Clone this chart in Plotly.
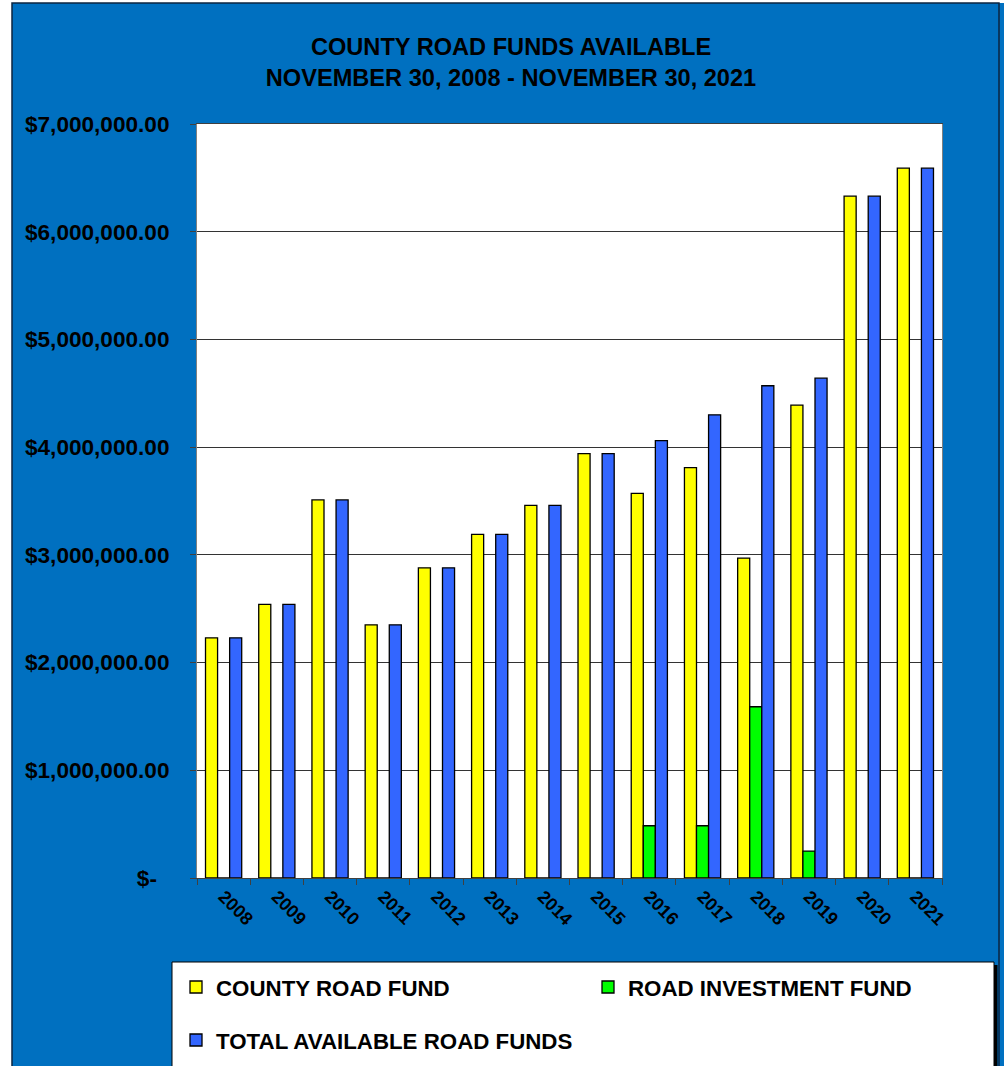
import plotly.graph_objects as go

years = ["2008", "2009", "2010", "2011", "2012", "2013", "2014",
         "2015", "2016", "2017", "2018", "2019", "2020", "2021"]
county_road_fund = [2230000, 2540000, 3510000, 2350000, 2880000, 3190000, 3460000,
                    3940000, 3570000, 3810000, 2970000, 4390000, 6330000, 6590000]
road_investment_fund = [0, 0, 0, 0, 0, 0, 0,
                        0, 485000, 485000, 1590000, 250000, 0, 0]
total_available = [2230000, 2540000, 3510000, 2350000, 2880000, 3190000, 3460000,
                   3940000, 4060000, 4300000, 4570000, 4640000, 6330000, 6590000]
y_tick_vals = [0, 1000000, 2000000, 3000000, 4000000, 5000000, 6000000, 7000000]
y_tick_text = ["$-\u00a0\u00a0", "$1,000,000.00", "$2,000,000.00", "$3,000,000.00",
               "$4,000,000.00", "$5,000,000.00", "$6,000,000.00", "$7,000,000.00"]

W, H = 1004, 1066
ML, MR, MT, MB = 197, 62, 124, 188
PW, PH = W - ML - MR, H - MT - MB

def px(x):
    return (x - ML) / PW

def py(y):
    return (H - MB - y) / PH

FONT = "Arial, Liberation Sans, sans-serif"
BG = "#0070C0"

fig = go.Figure()
fig.add_trace(go.Bar(x=years, y=county_road_fund, name="COUNTY ROAD FUND",
                     marker=dict(color="#FFFF00", line=dict(color="#000000", width=1.3)),
                     legend="legend", showlegend=True))
fig.add_trace(go.Bar(x=years, y=road_investment_fund, name="ROAD INVESTMENT FUND",
                     marker=dict(color="#00FF00", line=dict(color="#000000", width=1.3)),
                     legend="legend2", showlegend=True))
fig.add_trace(go.Bar(x=years, y=total_available, name="TOTAL AVAILABLE ROAD FUNDS",
                     marker=dict(color="#3366FF", line=dict(color="#000000", width=1.3)),
                     legend="legend3", showlegend=True))

legend_common = dict(orientation="h", bgcolor="rgba(0,0,0,0)", borderwidth=0,
                     xanchor="left", yanchor="middle",
                     font=dict(family=FONT, size=22.3, color="#000000", weight=700))

shapes = [
    # white strip left and top
    dict(type="rect", xref="paper", yref="paper", x0=px(-5), x1=px(12), y0=py(1100), y1=py(-5),
         fillcolor="#FFFFFF", line=dict(width=0), layer="above"),
    dict(type="rect", xref="paper", yref="paper", x0=px(-5), x1=px(1010), y0=py(3), y1=py(-5),
         fillcolor="#FFFFFF", line=dict(width=0), layer="above"),
    # frame border
    dict(type="rect", xref="paper", yref="paper", x0=px(12), x1=px(999), y0=py(1080), y1=py(3),
         fillcolor="rgba(0,0,0,0)", line=dict(color="#0B2540", width=1.5), layer="above"),
    # legend box shadow and box
    dict(type="rect", xref="paper", yref="paper", x0=px(176), x1=px(997.5), y0=py(1090), y1=py(965),
         fillcolor="#000000", line=dict(width=0), layer="above"),
    dict(type="rect", xref="paper", yref="paper", x0=px(172), x1=px(994), y0=py(1090), y1=py(962),
         fillcolor="#FFFFFF", line=dict(color="#000000", width=1), layer="above"),
]

fig.update_layout(
    width=W, height=H, autosize=False,
    margin=dict(l=ML, r=MR, t=MT, b=MB, pad=0, autoexpand=False),
    paper_bgcolor=BG, plot_bgcolor="#FFFFFF",
    barmode="group", bargap=0.32, bargroupgap=0,
    showlegend=True,
    font=dict(family=FONT, color="#000000"),
    title=dict(text="COUNTY ROAD FUNDS AVAILABLE<br>NOVEMBER 30, 2008 - NOVEMBER 30, 2021",
               xref="container", yref="container", x=0.509, xanchor="center",
               y=1 - 55 / H, yanchor="top",
               font=dict(family=FONT, size=23.6, color="#000000", weight=700)),
    xaxis=dict(type="category", showgrid=False, tickson="boundaries", ticks="outside",
               ticklen=6, tickcolor="#404040", tickangle=45, automargin=False,
               showline=True, linecolor="#404040", linewidth=1, mirror=True,
               tickfont=dict(family=FONT, size=18, color="#000000", weight=700)),
    yaxis=dict(range=[0, 7000000], tickvals=y_tick_vals, ticktext=y_tick_text,
               showgrid=True, gridcolor="#333333", gridwidth=1, automargin=False,
               ticks="outside", ticklen=6, tickcolor="#404040", ticklabelstandoff=16,
               showline=True, linecolor="#808080", linewidth=1, mirror=True,
               zeroline=False,
               tickfont=dict(family=FONT, size=22.6, color="#000000", weight=700)),
    legend=dict(x=px(176), y=py(987), **legend_common),
    legend2=dict(x=px(588), y=py(987), **legend_common),
    legend3=dict(x=px(176), y=py(1040), **legend_common),
    shapes=shapes,
)

fig.write_html("out.html", config={"displayModeBar": False},
               post_script="document.body.style.margin='0';document.body.style.overflow='hidden';")
